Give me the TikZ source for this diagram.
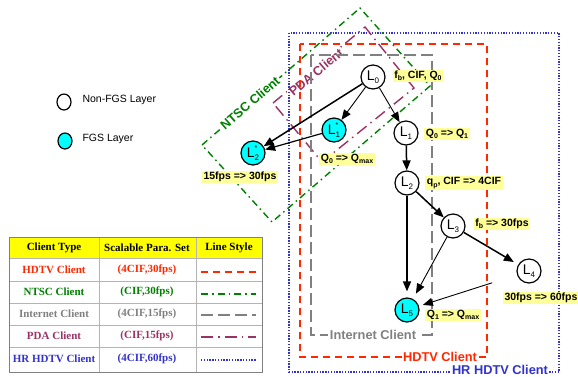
\documentclass[tikz,border=0pt]{standalone}
\usepackage{fontspec}
\setmainfont{Liberation Sans}
\newfontfamily\tabfont{Liberation Serif}
\usetikzlibrary{arrows.meta,shapes.geometric}
\definecolor{hdred}{RGB}{255,40,0}
\definecolor{ntscgreen}{RGB}{0,128,0}
\definecolor{netgray}{RGB}{128,128,128}
\definecolor{pdapurple}{RGB}{153,51,102}
\definecolor{hrblue}{RGB}{51,51,204}
\definecolor{lblyellow}{RGB}{255,255,153}
\definecolor{fgscyan}{RGB}{0,255,255}
\definecolor{hdryellow}{RGB}{255,255,0}
\definecolor{gridgray}{RGB}{180,180,180}
\newcommand\mysub[1]{\raisebox{-2.2pt}{\fontsize{7}{7}\selectfont #1}}
\newcommand\nsub[1]{\raisebox{-3pt}{\fontsize{8}{8}\selectfont #1}}
\newcommand\nstar[1]{\rlap{\raisebox{6.5pt}{\fontsize{7}{7}\selectfont *}}\raisebox{-3pt}{\fontsize{8}{8}\selectfont #1}}
\begin{document}
\begin{tikzpicture}[x=1pt,y=-1pt,
  hdtvline/.style={draw=hdred, line width=1.6pt, dash pattern=on 7pt off 5pt},
  ntscline/.style={draw=ntscgreen, line width=1.4pt, dash pattern=on 7pt off 4pt on 1.5pt off 4pt},
  netline/.style={draw=netgray, line width=1.4pt, dash pattern=on 12pt off 5pt},
  pdaline/.style={draw=pdapurple, line width=1.4pt, dash pattern=on 12pt off 5pt on 1.5pt off 5pt},
  hrline/.style={draw=hrblue, line width=1.3pt, dash pattern=on 1.3pt off 1.5pt},
  lnode/.style={circle, draw=black, line width=1.2pt, minimum size=24pt, inner sep=0pt, font=\fontsize{14}{14}\selectfont},
  fgsnode/.style={lnode, fill=fgscyan},
  nonfgsnode/.style={lnode, fill=white},
  lbl/.style={fill=lblyellow, inner sep=1.5pt, font=\bfseries\fontsize{10.5}{10.5}\selectfont},
  boxlbl/.style={fill=white, inner sep=1.5pt, font=\bfseries\fontsize{12.8}{12.8}\selectfont},
  thickarr/.style={-{Triangle[length=10pt,width=8pt]}, line width=1.5pt},
  medarr/.style={-{Triangle[length=10pt,width=8pt]}, line width=1.2pt},
  thinarr/.style={-{Triangle[length=10pt,width=8pt]}, line width=0.9pt},
  legcirc/.style={ellipse, draw=black, line width=1.2pt, minimum width=14pt, minimum height=16pt, inner sep=0pt},
  legtext/.style={anchor=west, font=\fontsize{10.5}{10.5}\selectfont},
  tabgrid/.style={draw=gridgray, line width=0.9pt},
  tabtext/.style={font=\tabfont\bfseries\fontsize{11}{11}\selectfont}
]
\useasboundingbox (0,0) rectangle (578,376);
% rotated client boxes
\draw[ntscline] (202,145) -- (360,8) -- (430,86) -- (272,222) -- cycle;
\draw[pdaline] (273,103) -- (365,27) -- (414,88) -- (322,162) -- cycle;
\node[boxlbl, text=ntscgreen, rotate=41] (ntsclbl) at (250,103) {NTSC Client};
\node[boxlbl, text=pdapurple, rotate=40] (pdalbl) at (316,72) {PDA Client};
% straight client boxes
\draw[hrline] (289,33) rectangle (559,372);
\draw[hdtvline] (300,44) rectangle (487,357);
\draw[netline] (311,55) rectangle (432,335);
\node[boxlbl, text=hrblue, inner sep=1pt] (hrlbl) at (500,369.5) {HR HDTV Client};
\node[boxlbl, text=hdred] (hdlbl) at (440,357) {HDTV Client};
\node[boxlbl, text=netgray] (netlbl) at (373,335) {Internet Client};
% layer nodes
\node[nonfgsnode] (L0) at (373,77) {L\nsub{0}};
\node[nonfgsnode] (L1) at (406,133) {L\nsub{1}};
\node[nonfgsnode] (L2) at (407,183) {L\nsub{2}};
\node[nonfgsnode] (L3) at (453,226) {L\nsub{3}};
\node[nonfgsnode] (L4) at (529,271) {L\nsub{4}};
\node[fgsnode] (L5) at (407,310) {L\nsub{5}};
\node[fgsnode] (L1s) at (334,130) {L\nstar{1}};
\node[fgsnode] (L2s) at (253,153) {L\nstar{2}};
% connectors
\draw[thickarr] (L0) -- (L2s);
\draw[thinarr] (L0) -- (L1s);
\draw[medarr] (L1s) -- (L2s);
\draw[thinarr] (L0) -- (L1);
\draw[thickarr] (L1) -- (L2);
\draw[thickarr] (L2) -- (L3);
\draw[thickarr, shorten >=6pt] (L2) -- (L5);
\draw[thickarr, shorten >=5pt] (L3) -- (L4);
\draw[thinarr, shorten >=6pt] (L3) -- (L5);
\draw[thinarr, shorten <=26pt, shorten >=4pt] (L4) -- (L5);
% yellow labels
\node[lbl] (a0) at (418,76) {f\mysub{b}, CIF, Q\mysub{0}};
\node[lbl] (a1) at (447,134) {Q\mysub{0} => Q\mysub{1}};
\node[lbl] (a2) at (464,183) {q\mysub{p}, CIF => 4CIF};
\node[lbl] (a3) at (502,224) {f\mysub{b} => 30fps};
\node[lbl] (a4) at (541,298) {30fps => 60fps};
\node[lbl] (a5) at (453,315) {Q\mysub{1} => Q\mysub{max}};
\node[lbl] (a6) at (347,159) {Q\mysub{0} => Q\mysub{max}};
\node[lbl] (a7) at (240,177) {15fps => 30fps};
% legend
\node[legcirc, fill=white] (lg1) at (64,102) {};
\node[legtext] (lgt1) at (79,100) {Non-FGS Layer};
\node[legcirc, fill=fgscyan] (lg2) at (65,141) {};
\node[legtext] (lgt2) at (79,139) {FGS Layer};
% table
\fill[hdryellow] (9,237) rectangle (262,258);
\foreach \yy in {258,281,303,325,347} \draw[tabgrid] (9,\yy) -- (262,\yy);
\foreach \xx in {99,196} \draw[tabgrid] (\xx,237) -- (\xx,372);
\draw[draw=gray, line width=1pt] (9,237) rectangle (262,372);
\node[tabtext] (h1) at (54,248) {Client Type};
\node[tabtext] (h2) at (147,248) {Scalable Para. Set};
\node[tabtext] (h3) at (229,248) {Line Style};
\node[tabtext, text=hdred] (r1a) at (54,270) {HDTV Client};
\node[tabtext, text=hdred] (r1b) at (147,270) {(4CIF,30fps)};
\node[tabtext, text=ntscgreen] (r2a) at (54,292) {NTSC Client};
\node[tabtext, text=ntscgreen] (r2b) at (147,292) {(CIF,30fps)};
\node[tabtext, text=netgray] (r3a) at (54,314) {Internet Client};
\node[tabtext, text=netgray] (r3b) at (147,314) {(4CIF,15fps)};
\node[tabtext, text=pdapurple] (r4a) at (54,336) {PDA Client};
\node[tabtext, text=pdapurple] (r4b) at (147,336) {(CIF,15fps)};
\node[tabtext, text=hrblue] (r5a) at (54,359) {HR HDTV Client};
\node[tabtext, text=hrblue] (r5b) at (147,359) {(4CIF,60fps)};
\draw[hdtvline] (201,272) -- (256,272);
\draw[ntscline] (201,294) -- (256,294);
\draw[netline] (201,315) -- (256,315);
\draw[pdaline] (201,337) -- (256,337);
\draw[hrline] (201,360) -- (256,360);
\end{tikzpicture}
\end{document}
